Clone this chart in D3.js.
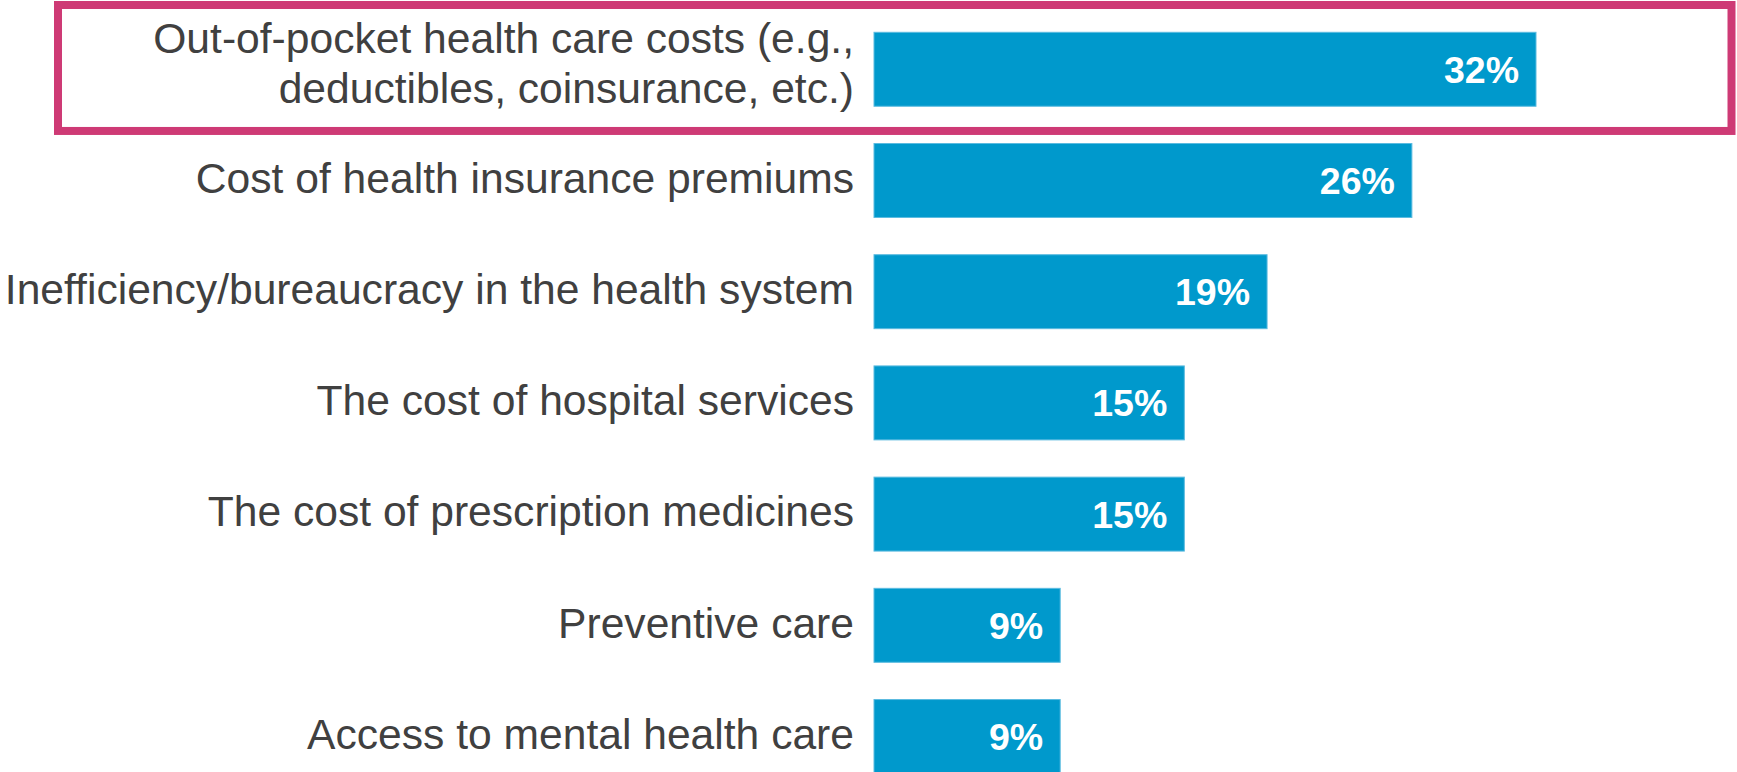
<!DOCTYPE html>
<html lang="en">
<head>
  <meta charset="UTF-8">
  <title>Health care cost concerns</title>
  <style>
  body {
    margin: 0;
    background: #fff;
  }
  svg {
    display: block;
  }
  .cat {
    fill: #404040;
    font-family: "Liberation Sans", Arial, sans-serif;
    font-size: 42.6px;
  }
  .val {
    fill: #fff;
    font-family: "Liberation Sans", Arial, sans-serif;
    font-size: 37.5px;
    font-weight: bold;
  }
  .bar {
    fill: #0099cc;
    stroke: #5bbbe0;
    stroke-width: 1px;
  }
  .highlight {
    fill: none;
    stroke: #ce3a75;
    stroke-width: 8px;
  }
  </style>
</head>
<body>
  <svg></svg>
  <script src="https://d3js.org/d3.v7.min.js"></script>
  <script>

  var categories = [
    'Out-of-pocket health care costs (e.g.,\ndeductibles, coinsurance, etc.)',
    'Cost of health insurance premiums',
    'Inefficiency/bureaucracy in the health system',
    'The cost of hospital services',
    'The cost of prescription medicines',
    'Preventive care',
    'Access to mental health care'
  ];
  var values = [32, 26, 19, 15, 15, 9, 9];

  var width = 1737;
  var height = 772;

  var svg = d3.select('svg')
    .attr('width', width)
    .attr('height', height);

  var x = d3.scaleLinear()
    .domain([0, 32])
    .range([874, 1536]);

  var y = d3.scaleBand()
    .domain(categories)
    .range([32.3, 773.5])
    .paddingInner(0.335)
    .paddingOuter(0);

  var rows = categories.map(function (c, i) {
    return { cat: c, value: values[i] };
  });

  // highlight box round the first row
  var first = y(categories[0]);
  svg.append('rect')
    .attr('class', 'highlight')
    .attr('x', 58)
    .attr('y', first - 27.3)
    .attr('width', 1673.5)
    .attr('height', y.bandwidth() + 52);

  var row = svg.selectAll('g.row')
    .data(rows)
    .enter()
    .append('g')
    .attr('class', 'row');

  row.append('rect')
    .attr('class', 'bar')
    .attr('x', x(0))
    .attr('y', function (d) { return y(d.cat); })
    .attr('width', function (d) { return x(d.value) - x(0); })
    .attr('height', y.bandwidth());

  row.append('text')
    .attr('class', 'val')
    .attr('text-anchor', 'end')
    .attr('x', function (d) { return x(d.value) - 17; })
    .attr('y', function (d) { return y(d.cat) + y.bandwidth() / 2 + 13.5; })
    .text(function (d) { return d.value + '%'; });

  var lineHeight = 50;

  row.append('text')
    .attr('class', 'cat')
    .attr('text-anchor', 'end')
    .each(function (d) {
      var lines = d.cat.split('\n');
      var mid = y(d.cat) + y.bandwidth() / 2;
      // two-line labels: first line sits well above centre
      var start = mid + 12.3 - (lines.length - 1) * 29;
      var t = d3.select(this);
      lines.forEach(function (l, i) {
        t.append('tspan')
          .attr('x', 854)
          .attr('y', start + i * lineHeight)
          .text(l);
      });
    });
  </script>
</body>
</html>
